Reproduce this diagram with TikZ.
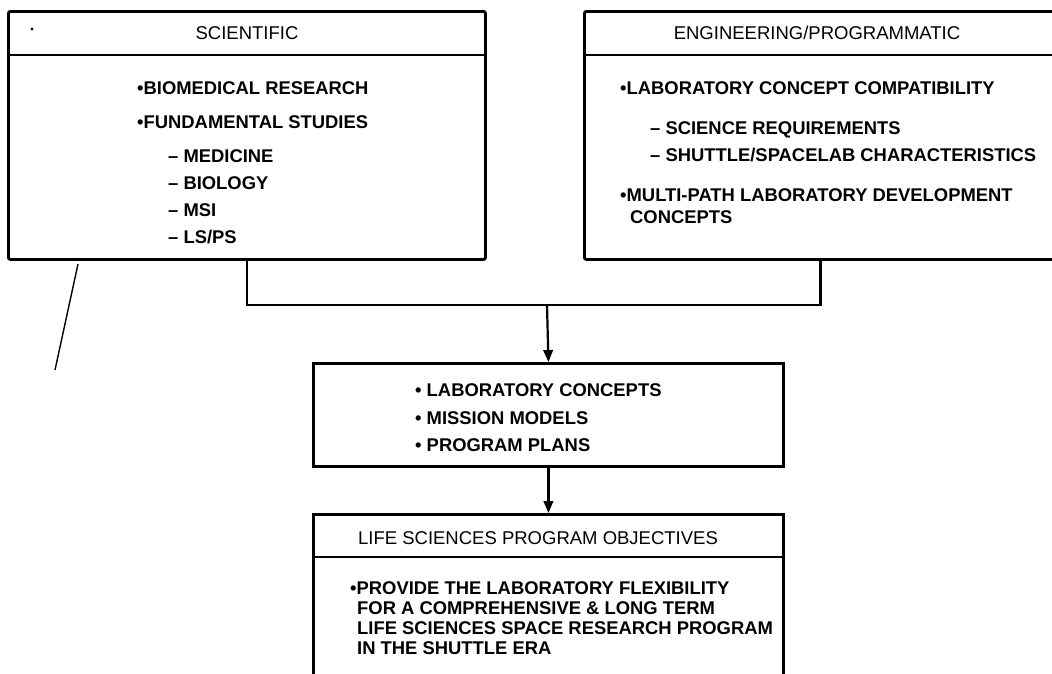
\documentclass[tikz,border=0pt]{standalone}
\usepackage{fontspec}
\setmainfont{Liberation Sans}
\usetikzlibrary{arrows.meta,calc}
\begin{document}
\begin{tikzpicture}[x=1pt,y=-1pt,
  box/.style={draw, line width=2.9pt, rounded corners=2pt, inner sep=0pt, anchor=north west},
  divider/.style={line width=2.4pt},
  title/.style={anchor=base, font=\fontsize{18.5}{21}\selectfont, inner sep=0pt},
  item/.style={anchor=base west, font=\fontsize{18.4}{21}\selectfont\bfseries, inner sep=0pt},
  link/.style={line width=2.2pt},
  arrow/.style={link, -{Triangle[length=12pt,width=9.5pt]}}]
\useasboundingbox (0,0) rectangle (1052,673);

% top left box
\node[box, minimum width=477pt, minimum height=248pt] (sci) at (7,10) {};
\draw[divider] (sci.west |- 0,55) -- (sci.east |- 0,55);
\node[title] (scit) at (247,39) {SCIENTIFIC};
\fill (32,29) circle (1.6pt);
\node[item] (s1) at (137,94) {•BIOMEDICAL RESEARCH};
\node[item] (s2) at (137,128) {•FUNDAMENTAL STUDIES};
\node[item] (s3) at (168,162) {– MEDICINE};
\node[item] (s4) at (168,189) {– BIOLOGY};
\node[item] (s5) at (168,216) {– MSI};
\node[item] (s6) at (168,243) {– LS/PS};

% top right box (its right side lies at the edge of the picture)
\node[box, minimum width=472pt, minimum height=248pt] (eng) at (583,10) {};
\draw[divider] (eng.west |- 0,55) -- (eng.east |- 0,55);
\node[title] (engt) at (817,39) {ENGINEERING/PROGRAMMATIC};
\node[item] (e1) at (620,94) {•LABORATORY CONCEPT COMPATIBILITY};
\node[item] (e2) at (650,134) {– SCIENCE REQUIREMENTS};
\node[item] (e3) at (650,161) {– SHUTTLE/SPACELAB CHARACTERISTICS};
\node[item] (e4) at (620,201) {•MULTI-PATH LABORATORY DEVELOPMENT};
\node[item] (e5) at (630,223) {CONCEPTS};

% middle box
\node[box, rounded corners=0pt, minimum width=470pt, minimum height=103pt] (mid) at (312,362) {};
\node[item] (m1) at (415,396) {• LABORATORY CONCEPTS};
\node[item] (m2) at (415,424) {• MISSION MODELS};
\node[item] (m3) at (415,451) {• PROGRAM PLANS};

% bottom box (open at the bottom of the picture)
\node[box, rounded corners=0pt, minimum width=470pt, minimum height=180pt] (obj) at (312,513) {};
\draw[divider] (obj.west |- 0,557) -- (obj.east |- 0,557);
\node[title] (objt) at (538,544) {LIFE SCIENCES PROGRAM OBJECTIVES};
\node[item] (o1) at (350,594) {•PROVIDE THE LABORATORY FLEXIBILITY};
\node[item] (o2) at (357,614) {FOR A COMPREHENSIVE \& LONG TERM};
\node[item] (o3) at (357,634) {LIFE SCIENCES SPACE RESEARCH PROGRAM};
\node[item] (o4) at (357,654) {IN THE SHUTTLE ERA};

% connectors
\coordinate (join) at (547,305);
\draw[link] (sci.south) |- (join) -| (eng.south);
\draw[arrow] (join) -- (mid.north);
\draw[arrow] (mid.south) -- (obj.north);

% stray mark
\coordinate (m0) at (78,264);
\coordinate (m9) at (55,370);
\draw[line width=1.4pt] (m0) -- (m9);
\end{tikzpicture}
\end{document}
